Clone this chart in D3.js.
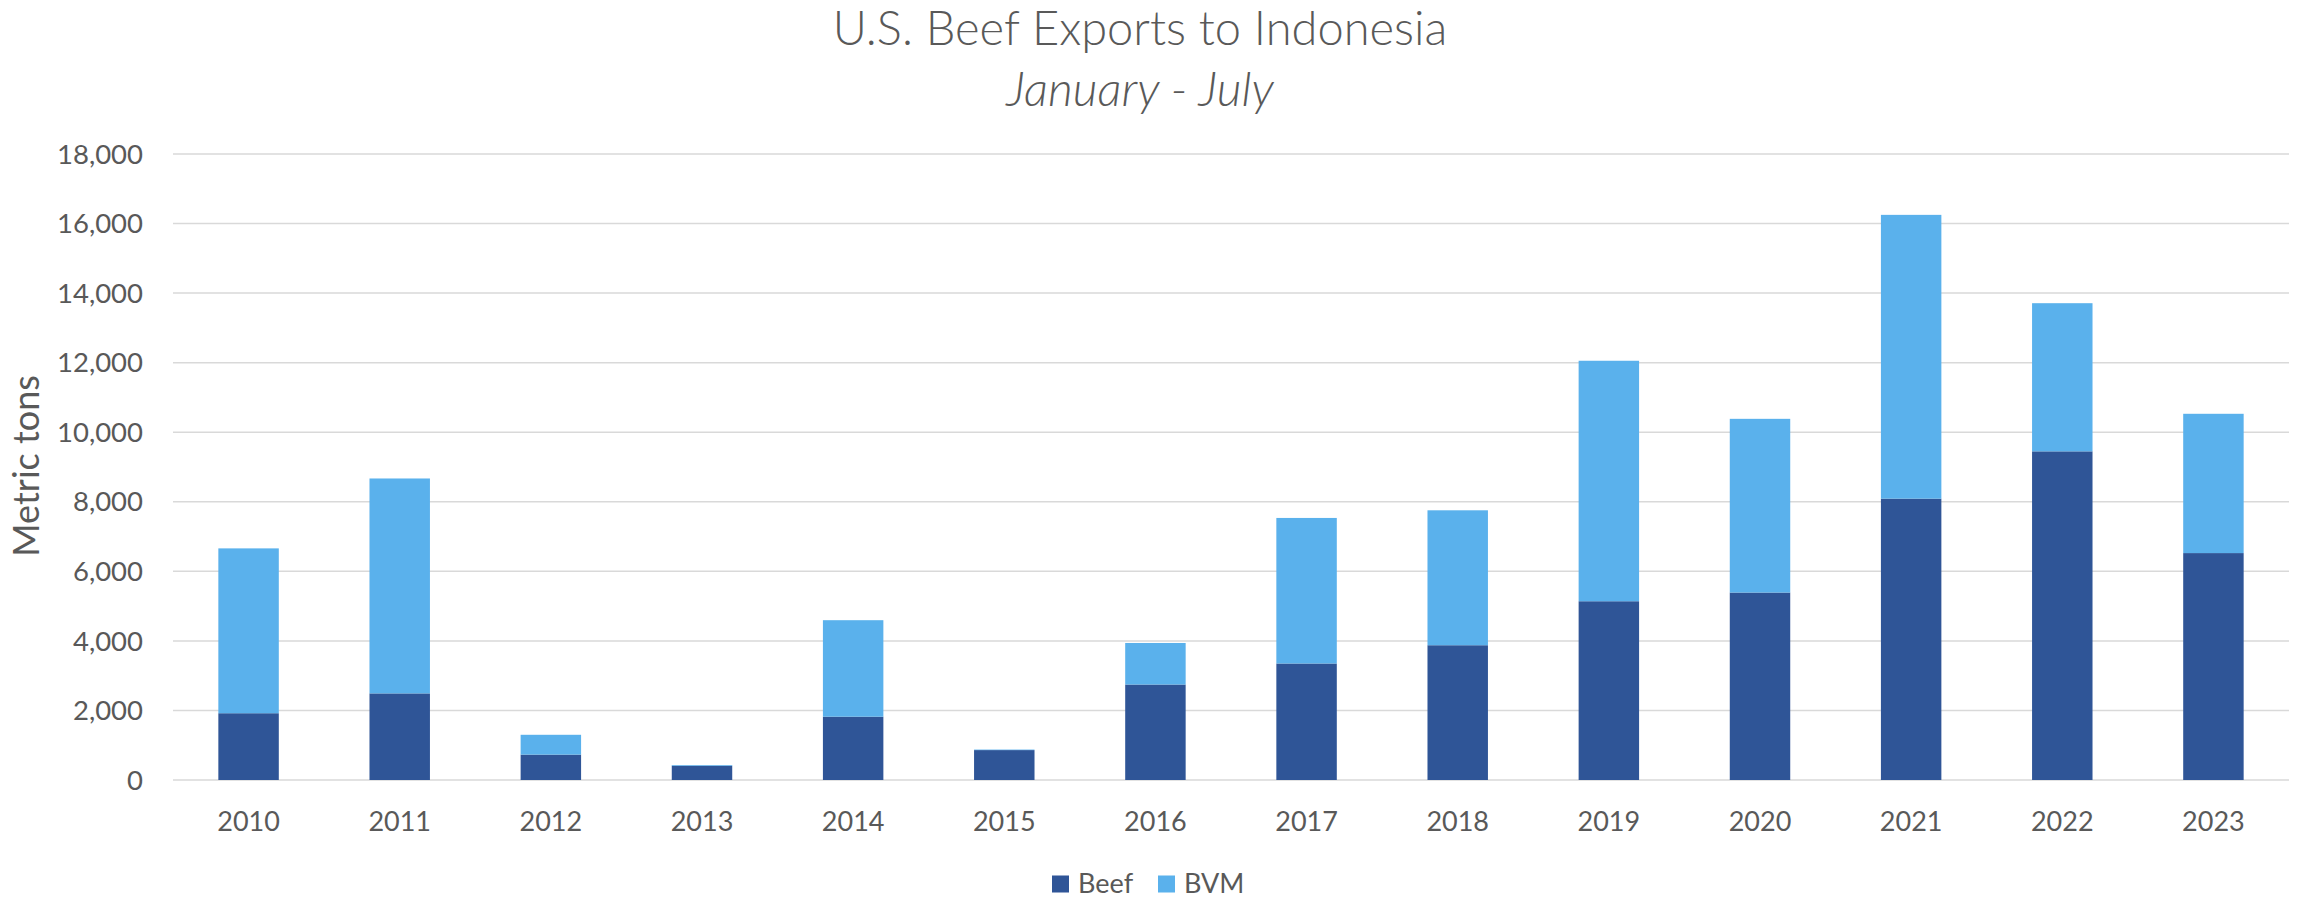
<!DOCTYPE html>
<html>
<head>
<meta charset="utf-8">
<script src="https://cdn.jsdelivr.net/npm/d3@7"></script>
<style>
  html, body { margin: 0; padding: 0; background: #fff; }
  svg { display: block; }
</style>
</head>
<body>
<svg id="chart" width="2300" height="900"></svg>
<script>
const years = ["2010","2011","2012","2013","2014","2015","2016","2017","2018","2019","2020","2021","2022","2023"];
const beef = [1920, 2490, 730, 410, 1820, 860, 2745, 3350, 3875, 5140, 5390, 8090, 9450, 6525];
const bvm  = [4740, 6180, 570, 20, 2775, 15, 1195, 4185, 3880, 6915, 4995, 8160, 4260, 4005];
const yTicks = [0, 2000, 4000, 6000, 8000, 10000, 12000, 14000, 16000, 18000];
const seriesNames = ["Beef", "BVM"];
const colors = ["#2F5597", "#5AB1EC"];

const svg = d3.select("#chart");
const font = "Lato, 'Open Sans', sans-serif";
const textColor = "#595959";

const x = d3.scaleBand().domain(years).range([173, 2289]).paddingInner(0.6).paddingOuter(0.3);
const y = d3.scaleLinear().domain([0, 18000]).range([780, 154]);

// gridlines
svg.append("g").selectAll("line").data(yTicks).join("line")
  .attr("x1", 173).attr("x2", 2289)
  .attr("y1", d => y(d)).attr("y2", d => y(d))
  .attr("stroke", "#D9D9D9").attr("stroke-width", 1.5);

// y tick labels
svg.append("g").selectAll("text").data(yTicks).join("text")
  .attr("x", 143).attr("y", d => y(d)).attr("dy", "0.35em")
  .attr("text-anchor", "end")
  .attr("font-family", font).attr("font-size", 27.5).attr("fill", textColor)
  .text(d => d3.format(",")(d));

// stacked bars
const rows = years.map((yr, i) => ({year: yr, Beef: beef[i], BVM: bvm[i]}));
const stack = d3.stack().keys(seriesNames)(rows);
svg.append("g").selectAll("g").data(stack).join("g")
  .attr("fill", (d, i) => colors[i])
  .selectAll("rect").data(d => d).join("rect")
  .attr("x", d => x(d.data.year))
  .attr("width", x.bandwidth())
  .attr("y", d => y(d[1]))
  .attr("height", d => y(d[0]) - y(d[1]));

// x labels
svg.append("g").selectAll("text").data(years).join("text")
  .attr("x", d => x(d) + x.bandwidth() / 2).attr("y", 822).attr("dy", "0.35em")
  .attr("text-anchor", "middle")
  .attr("font-family", font).attr("font-size", 27).attr("fill", textColor)
  .text(d => d);

// y axis title
svg.append("text")
  .attr("transform", "translate(26,466) rotate(-90)")
  .attr("dy", "0.35em")
  .attr("text-anchor", "middle")
  .attr("font-family", font).attr("font-size", 36).attr("fill", textColor)
  .text("Metric tons");

// title
svg.append("text")
  .attr("x", 1140).attr("y", 29).attr("dy", "0.35em")
  .attr("text-anchor", "middle")
  .attr("font-family", font).attr("font-weight", 300).attr("font-size", 47).attr("fill", textColor)
  .text("U.S. Beef Exports to Indonesia");
svg.append("text")
  .attr("x", 1140).attr("y", 89).attr("dy", "0.35em")
  .attr("text-anchor", "middle")
  .attr("font-family", font).attr("font-weight", 300).attr("font-style", "italic").attr("font-size", 48).attr("fill", textColor)
  .text("January - July");

// legend
const legendX = [1052, 1158];
const lg = svg.append("g").selectAll("g").data(seriesNames).join("g")
  .attr("transform", (d, i) => `translate(${legendX[i]},884)`);
lg.append("rect").attr("x", 0).attr("y", -8.5).attr("width", 17).attr("height", 17)
  .attr("fill", (d, i) => colors[i]);
lg.append("text").attr("x", 26).attr("y", 0).attr("dy", "0.35em")
  .attr("font-family", font).attr("font-size", 27).attr("fill", textColor)
  .text(d => d);
</script>
</body>
</html>
